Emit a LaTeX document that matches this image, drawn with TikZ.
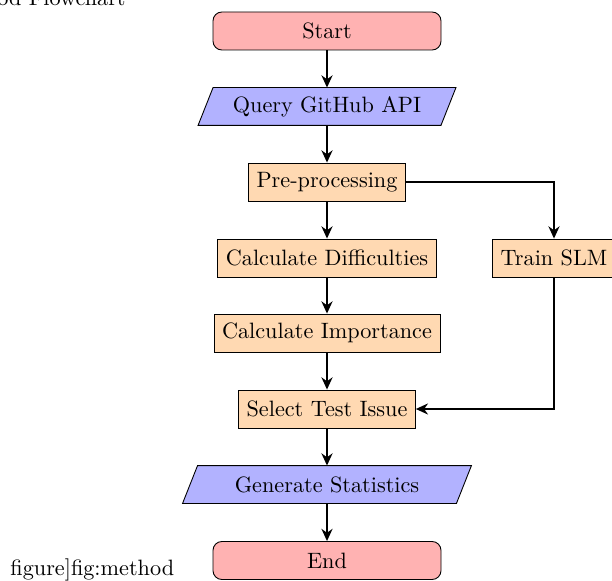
\documentclass[tikz,border=0pt]{standalone}
\usetikzlibrary{arrows.meta,backgrounds,calc}
\tikzset{
  startstop/.style={rectangle, rounded corners=4pt, draw=black, fill=red!30, minimum width=102.6pt, minimum height=17.1pt, inner sep=0pt},
  iobox/.style={rectangle, draw=none, minimum height=16.65pt, inner sep=0pt},
  process/.style={rectangle, draw=black, fill=orange!30, minimum height=17.1pt, inner xsep=3.6pt, inner ysep=0pt},
  arrow/.style={thick, -{Stealth[length=5.5pt,width=5pt]}},
  plain/.style={inner sep=0pt}
}
\begin{document}
\begin{tikzpicture}[x=0.45pt, y=-0.45pt]
\useasboundingbox (0,0) rectangle (612,581);

\node[startstop] (start) at (327,31) {Start};
\node[iobox, minimum width=108.9pt] (query) at (327,106.5) {Query GitHub API};
\node[process] (pre) at (327,182) {Pre-processing};
\node[process] (diff) at (327,258) {Calculate Difficulties};
\node[process] (slm) at (554,258) {Train SLM};
\node[process] (imp) at (327,333) {Calculate Importance};
\node[process] (sel) at (327,409) {Select Test Issue};
\node[iobox, minimum width=122.85pt] (gen) at (327,484.5) {Generate Statistics};
\node[startstop] (end) at (327,560.5) {End};

\begin{scope}[on background layer]
  \filldraw[fill=blue!30, draw=black]
    ([xshift=3.375pt]query.north west) -- ([xshift=3.375pt]query.north east)
    -- ([xshift=-3.375pt]query.south east) -- ([xshift=-3.375pt]query.south west) -- cycle;
  \filldraw[fill=blue!30, draw=black]
    ([xshift=3.375pt]gen.north west) -- ([xshift=3.375pt]gen.north east)
    -- ([xshift=-3.375pt]gen.south east) -- ([xshift=-3.375pt]gen.south west) -- cycle;
\end{scope}

\draw[arrow] (start) -- (query);
\draw[arrow] (query) -- (pre);
\draw[arrow] (pre) -- (diff);
\draw[arrow] (diff) -- (imp);
\draw[arrow] (imp) -- (sel);
\draw[arrow] (sel) -- (gen);
\draw[arrow] (gen) -- (end);
\draw[arrow] (pre.east) -| (slm.north);
\draw[arrow] (slm.south) |- (sel.east);

\node[plain, anchor=base west] (title) at (-3,6) {od Flowchart};
\node[plain, anchor=base west] (label) at (10,575) {figure]fig:method};
\end{tikzpicture}
\end{document}
